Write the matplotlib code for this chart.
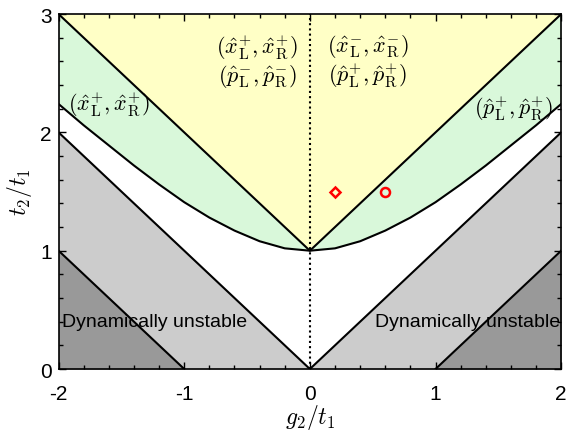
import numpy as np
import matplotlib
matplotlib.use("Agg")
import matplotlib.pyplot as plt
from matplotlib.ticker import MultipleLocator

plt.rcParams['mathtext.fontset'] = 'cm'
plt.rcParams['font.family'] = ['Liberation Sans', 'DejaVu Sans']

# Boundary (t2/t1 of the lower curve vs g2/t1)
curve_x = [-2.0, -1.8, -1.6, -1.4, -1.2, -1.0, -0.8, -0.6, -0.4, -0.2, 0.0,
           0.2, 0.4, 0.6, 0.8, 1.0, 1.2, 1.4, 1.6, 1.8, 2.0]
curve_y = [2.24, 2.06, 1.89, 1.72, 1.56, 1.41, 1.28, 1.17, 1.08, 1.02, 1.00,
           1.02, 1.08, 1.17, 1.28, 1.41, 1.56, 1.72, 1.89, 2.06, 2.24]

# Straight boundaries (vertices)
upper_x = [-2.0, 0.0, 2.0]
upper_y = [3.0, 1.0, 3.0]
gray_x = [-2.0, 0.0, 2.0]
gray_y = [2.0, 0.0, 2.0]
dark_left_x = [-2.0, -1.0]
dark_left_y = [1.0, 0.0]
dark_right_x = [1.0, 2.0]
dark_right_y = [0.0, 1.0]

# Markers
diamond_pt = (0.2, 1.5)
circle_pt = (0.6, 1.5)

fig = plt.figure(figsize=(5.66, 4.31), dpi=100)
ax = fig.add_axes([0.1035, 0.1415, 0.888, 0.8235])

yellow = '#FFFFC6'
green = '#D9F8DA'
lgray = '#CCCCCC'
dgray = '#999999'

ax.set_xlim(-2, 2)
ax.set_ylim(0, 3)

# Yellow region (top)
ax.fill_between(upper_x, upper_y, 3, color=yellow, lw=0, zorder=1)
# Green region between upper V and curve
ux = np.array(curve_x)
uy_interp = np.interp(ux, upper_x, upper_y)
ax.fill_between(curve_x, curve_y, uy_interp, color=green, lw=0, zorder=1)
# Light gray below gray V
ax.fill_between(gray_x, 0, gray_y, color=lgray, lw=0, zorder=1)
# Dark gray triangles
ax.fill_between(dark_left_x, 0, dark_left_y, color=dgray, lw=0, zorder=1)
ax.fill_between(dark_right_x, 0, dark_right_y, color=dgray, lw=0, zorder=1)

lw = 1.5
ax.plot(upper_x, upper_y, color='k', lw=lw, zorder=3)
ax.plot(curve_x, curve_y, color='k', lw=lw, zorder=3)
ax.plot(gray_x, gray_y, color='k', lw=lw, zorder=3)
ax.plot(dark_left_x, dark_left_y, color='k', lw=lw, zorder=3)
ax.plot(dark_right_x, dark_right_y, color='k', lw=lw, zorder=3)
ax.plot([0, 0], [0, 3], color='k', lw=1.5, ls=(0, (1, 1.5)), zorder=3)

ax.plot([diamond_pt[0]], [diamond_pt[1]], marker='D', ms=5, mfc='none',
        mec='red', mew=1.8, zorder=5)
ax.plot([circle_pt[0]], [circle_pt[1]], marker='o', ms=6.5, mfc='none',
        mec='red', mew=1.8, zorder=5)

fs = 16
ax.text(-0.42, 2.61, r'$(\hat{x}^{+}_{\rm L},\hat{x}^{+}_{\rm R})$' + '\n' +
        r'$(\hat{p}^{-}_{\rm L},\hat{p}^{-}_{\rm R})$', ha='center', va='center',
        fontsize=fs, linespacing=1.05, zorder=6)
ax.text(0.46, 2.61, r'$(\hat{x}^{-}_{\rm L},\hat{x}^{-}_{\rm R})$' + '\n' +
        r'$(\hat{p}^{+}_{\rm L},\hat{p}^{+}_{\rm R})$', ha='center', va='center',
        fontsize=fs, linespacing=1.05, zorder=6)
ax.text(-1.6, 2.24, r'$(\hat{x}^{+}_{\rm L},\hat{x}^{+}_{\rm R})$', ha='center',
        va='center', fontsize=fs, zorder=6)
ax.text(1.62, 2.21, r'$(\hat{p}^{+}_{\rm L},\hat{p}^{+}_{\rm R})$', ha='center',
        va='center', fontsize=fs, zorder=6)

ax.text(-1.97, 0.40, 'Dynamically unstable', ha='left', va='center',
        fontsize=14, zorder=6)
ax.text(0.52, 0.40, 'Dynamically unstable', ha='left', va='center',
        fontsize=14, zorder=6)

ax.set_xticks([-2, -1, 0, 1, 2])
ax.set_xticklabels(['-2', '-1', '0', '1', '2'])
ax.set_yticks([0, 1, 2, 3])
ax.set_yticklabels(['0', '1', '2', '3'])
ax.xaxis.set_minor_locator(MultipleLocator(0.2))
ax.yaxis.set_minor_locator(MultipleLocator(0.2))
ax.tick_params(which='both', direction='in', top=True, right=True,
               labelsize=15, width=1)
ax.tick_params(which='major', length=5)
ax.tick_params(which='minor', length=3)
ax.tick_params(axis='x', which='major', pad=11)
ax.tick_params(axis='y', which='major', pad=5)

ax.set_xlabel(r'$g_2/t_1$', fontsize=17, labelpad=-1)
ax.set_ylabel(r'$t_2/t_1$', fontsize=17, labelpad=4)

for s in ax.spines.values():
    s.set_linewidth(1.2)
    s.set_zorder(7)

fig.savefig('out.png', dpi=100)
